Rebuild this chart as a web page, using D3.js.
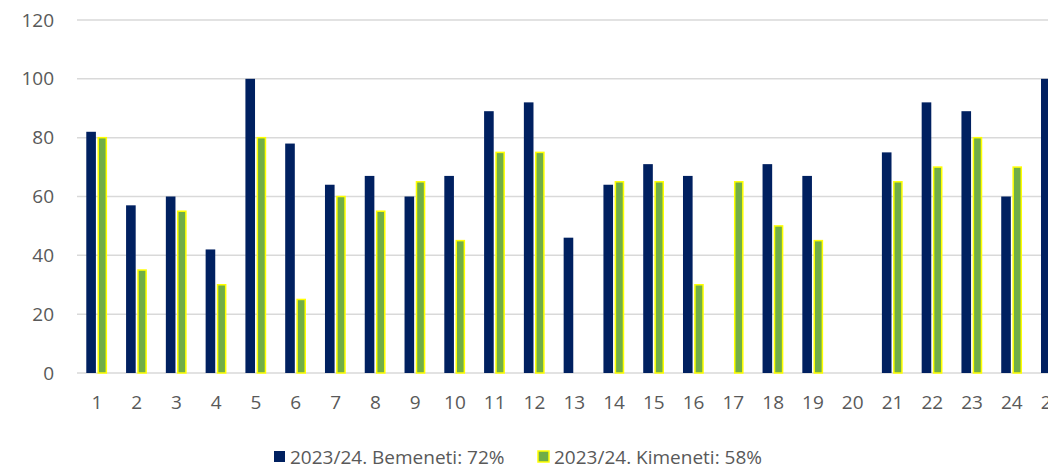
<!DOCTYPE html>
<html>
<head>
<meta charset="utf-8">
<script src="https://cdn.jsdelivr.net/npm/d3@7"></script>
<style>
  body { margin: 0; background: #fff; }
  svg { display: block; overflow: hidden; }
  text { font-family: "Open Sans", sans-serif; fill: #595959; }
</style>
</head>
<body>
<svg id="chart" width="1048" height="469"></svg>
<script>
// categories along the x axis
const categories = ["1","2","3","4","5","6","7","8","9","10","11","12","13",
                    "14","15","16","17","18","19","20","21","22","23","24","25"];
// null = no bar shown
const bemeneti = [82,57,60,42,100,78,64,67,60,67,89,92,46,64,71,67,null,71,67,null,75,92,89,60,100];
const kimeneti = [80,35,55,30,80,25,60,55,65,45,75,75,null,65,65,30,65,50,45,null,65,70,80,70,null];
const yTicks = [0,20,40,60,80,100,120];
const seriesNames = ["2023/24. Bemeneti: 72%", "2023/24. Kimeneti: 58%"];

const svg = d3.select("#chart");
const margin = {top: 20, left: 77, bottom: 96};
const height = 469 - margin.top - margin.bottom;
const step = 39.78;

const x = d3.scaleBand().domain(categories)
  .range([margin.left, margin.left + step * categories.length])
  .paddingInner(0).paddingOuter(0);
const xSub = d3.scaleBand().domain(["in","out"]).range([-10.6, 10.2]).paddingInner(0.14);
const y = d3.scaleLinear().domain([0, 120]).range([margin.top + height, margin.top]);

// gridlines
svg.append("g")
  .selectAll("line")
  .data(yTicks)
  .join("line")
  .attr("x1", margin.left).attr("x2", 1048)
  .attr("y1", d => y(d)).attr("y2", d => y(d))
  .attr("stroke", "#d9d9d9").attr("stroke-width", 1.5);

// y axis labels
const yAxis = svg.append("g")
  .attr("transform", `translate(${margin.left - 23},0)`)
  .call(d3.axisLeft(y).tickValues(yTicks).tickSize(0).tickPadding(0));
yAxis.select(".domain").remove();
yAxis.selectAll("text").style("font-size", "19px").attr("fill", "#595959")
  .style("font-family", "'Open Sans', sans-serif");

// x axis labels
const xAxis = svg.append("g")
  .attr("transform", `translate(0,${y(0) + 22})`)
  .call(d3.axisBottom(x).tickSize(0).tickPadding(0));
xAxis.select(".domain").remove();
xAxis.selectAll("text").style("font-size", "19px").attr("fill", "#595959")
  .style("font-family", "'Open Sans', sans-serif");

const center = c => x(c) + x.bandwidth() / 2;

// Bemeneti bars
svg.append("g")
  .selectAll("rect")
  .data(categories.map((c, i) => ({c, v: bemeneti[i]})).filter(d => d.v != null))
  .join("rect")
  .attr("x", d => center(d.c) + xSub("in"))
  .attr("width", xSub.bandwidth())
  .attr("y", d => y(d.v))
  .attr("height", d => y(0) - y(d.v))
  .attr("fill", "#002060");

// Kimeneti bars
svg.append("g")
  .selectAll("rect")
  .data(categories.map((c, i) => ({c, v: kimeneti[i]})).filter(d => d.v != null))
  .join("rect")
  .attr("x", d => center(d.c) + xSub("out") + 0.75)
  .attr("width", xSub.bandwidth() - 1.5)
  .attr("y", d => y(d.v))
  .attr("height", d => y(0) - y(d.v))
  .attr("fill", "#70ad47")
  .attr("stroke", "#ffff00")
  .attr("stroke-width", 1.5);

// legend
const legend = svg.append("g").attr("transform", "translate(0,457)");
const items = [
  {x: 274, fill: "#002060", stroke: "none", label: seriesNames[0]},
  {x: 538, fill: "#70ad47", stroke: "#ffff00", label: seriesNames[1]}
];
items.forEach(it => {
  legend.append("rect")
    .attr("x", it.x).attr("y", -6).attr("width", 11).attr("height", 11)
    .attr("fill", it.fill).attr("stroke", it.stroke).attr("stroke-width", 1.5);
  legend.append("text")
    .attr("x", it.x + 16).attr("y", 0).attr("dy", "0.35em")
    .style("font-size", "19px")
    .text(it.label);
});
</script>
</body>
</html>
